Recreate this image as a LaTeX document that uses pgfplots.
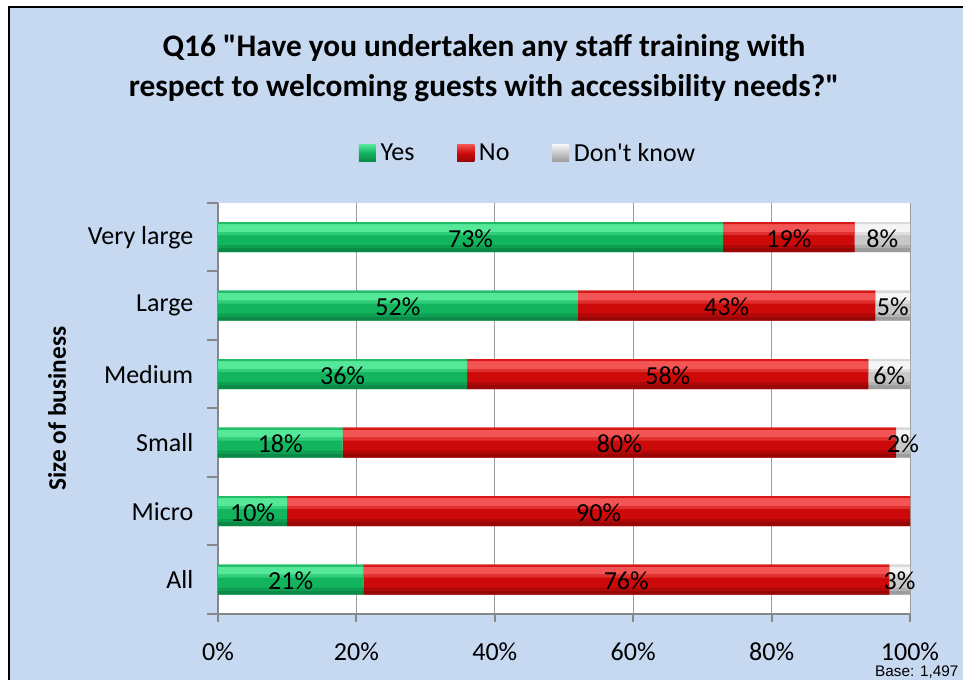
\documentclass[border=0pt]{standalone}
\usepackage{pgfplots}
\pgfplotsset{compat=1.18}
\usepackage{pgfplotstable}
\usepackage{fontspec}
\setmainfont{Carlito}[Ligatures=TeXOff]
\newfontfamily\basefont{Liberation Sans}
\definecolor{bgblue}{HTML}{C6D9F1}
\definecolor{axisgray}{HTML}{878787}
\definecolor{gridgray}{HTML}{9C9C9C}
% green
\definecolor{gmain}{HTML}{12B45E}
\definecolor{ghi}{HTML}{55E898}
\definecolor{gtr}{HTML}{30CE7A}
\definecolor{gedge}{HTML}{20BC66}
\definecolor{gdk}{HTML}{0B8A47}
\definecolor{gmd}{HTML}{0E9F52}
% red
\definecolor{rmain}{HTML}{CC0A0A}
\definecolor{rhi}{HTML}{F35555}
\definecolor{rtr}{HTML}{DF2F2F}
\definecolor{redge}{HTML}{D81818}
\definecolor{rdk}{HTML}{990606}
\definecolor{rmd}{HTML}{B00808}
% grey
\definecolor{kmain}{HTML}{C8C8C8}
\definecolor{khi}{HTML}{F5F5F5}
\definecolor{ktr}{HTML}{DFDFDF}
\definecolor{kedge}{HTML}{DADADA}
\definecolor{kdk}{HTML}{9C9C9C}
\definecolor{kmd}{HTML}{B2B2B2}

\pgfplotstableread{
cat yes no dk
0 21 76 3
1 10 90 0
2 18 80 2
3 36 58 6
4 52 43 5
5 73 19 8
}\datatable

\pgfplotsset{
  geom/.style={at={(163.5pt,49.5pt)}, anchor=south west,
    scale only axis, width=519pt, height=308.25pt,
    xbar stacked, xmin=0, xmax=100, ymin=-0.5, ymax=5.5},
  calcshow/.code={%
    \pgfkeys{/pgf/fpu=true,/pgf/fpu/output format=fixed}%
    \pgfmathparse{\pgfplotspointmeta>0.5 ? 1 : 0}\global\let\myshow\pgfmathresult
    \pgfkeys{/pgf/fpu=false}%
  },
}
\newcommand{\stripeaxis}[5]{%
\begin{axis}[geom, hide axis, bar width=#1, bar shift=#2]
\addplot[draw=none, fill=#3] table[x=yes, y=cat] {\datatable};
\addplot[draw=none, fill=#4] table[x=no, y=cat] {\datatable};
\addplot[draw=none, fill=#5] table[x=dk, y=cat] {\datatable};
\end{axis}}

\begin{document}
\begin{tikzpicture}[x=0.75pt,y=0.75pt]
\useasboundingbox (0,0) rectangle (963,680);
\clip (0,0) rectangle (963,680);
\fill[white] (0,0) rectangle (963,680);
\fill[bgblue] (9,-20) rectangle (990,672.5);
\draw[black, line width=1.5pt] (9,-20) rectangle (990,672.5);
\node[font=\fontsize{23.5}{30}\selectfont\bfseries, align=center] at (484,612)
  {Q16 "Have you undertaken any staff training with\\respect to welcoming guests with accessibility needs?"};
\begin{axis}[
  geom, bar width=22.5pt,
  axis lines*=left,
  axis line style={draw=axisgray, line width=1.5pt},
  axis background/.style={fill=white},
  tick align=outside,
  xmajorgrids, grid style={draw=gridgray, line width=0.75pt},
  xtick={0,20,...,100},
  xticklabel={\pgfmathprintnumber{\tick}\%},
  /pgf/number format/assume math mode=true,
  ytick={0,...,5},
  yticklabels={All,Micro,Small,Medium,Large,Very large},
  major y tick style={draw=none},
  major x tick style={draw=axisgray, line width=1.5pt},
  major tick length=6pt,
  minor ytick={-0.5,0.5,1.5,2.5,3.5,4.5,5.5},
  minor y tick style={draw=axisgray, line width=1.5pt},
  minor tick length=8pt,
  tick label style={font=\fontsize{19.5}{23}\selectfont},
  yticklabel style={xshift=-9pt},
  xticklabel style={yshift=-14.5pt, inner ysep=1pt},
  ylabel={Size of business},
  every axis y label/.style={at={(rel axis cs:0,0.5)}, xshift=-120.75pt, rotate=90, anchor=center, font=\fontsize{19}{23}\selectfont\bfseries},
  legend columns=3,
  legend style={at={(0.45,1)}, anchor=center, yshift=37.5pt, draw=none, fill=none,
    font=\fontsize{19.5}{23}\selectfont, nodes={inner xsep=3.5pt},
    /tikz/every even column/.append style={column sep=28.5pt}},
]
\addplot[draw=none, fill=gmain,
  legend image code/.code={\fill[top color=ghi, bottom color=gdk, middle color=gmain] (0pt,-6.4pt) rectangle (12.8pt,6.4pt);}]
  table[x=yes, y=cat] {\datatable};
\addlegendentry{Yes}
\addplot[draw=none, fill=rmain,
  legend image code/.code={\fill[top color=rhi, bottom color=rdk, middle color=rmain] (0pt,-6.4pt) rectangle (12.8pt,6.4pt);}]
  table[x=no, y=cat] {\datatable};
\addlegendentry{No}
\addplot[draw=none, fill=kmain,
  legend image code/.code={\fill[top color=khi, bottom color=kdk, middle color=kmain] (0pt,-6.4pt) rectangle (12.8pt,6.4pt);}]
  table[x=dk, y=cat] {\datatable};
\addlegendentry{Don't know}
\end{axis}
% bevel stripes of the bars
\stripeaxis{6pt}{6.75pt}{ghi}{rhi}{khi}
\stripeaxis{2.25pt}{2.625pt}{gtr}{rtr}{ktr}
\stripeaxis{1.5pt}{10.5pt}{gedge}{redge}{kedge}
\stripeaxis{3pt}{-9.75pt}{gdk}{rdk}{kdk}
\stripeaxis{2.25pt}{-7.125pt}{gmd}{rmd}{kmd}
% value labels
\begin{axis}[geom, hide axis, bar width=22.5pt,
  /pgf/number format/assume math mode=true,
  point meta=explicit,
  nodes near coords={\ifdim\myshow pt>0.5pt \pgfmathprintnumber{\pgfplotspointmeta}\%\fi},
  every node near coord/.append style={/pgfplots/calcshow, anchor=center, yshift=-1pt, font=\fontsize{19.5}{23}\selectfont, text=black},
]
\addplot[draw=none, fill=none] table[x=yes, y=cat, meta=yes] {\datatable};
\addplot[draw=none, fill=none] table[x=no, y=cat, meta=no] {\datatable};
\addplot[draw=none, fill=none] table[x=dk, y=cat, meta=dk] {\datatable};
\end{axis}
\node[font=\basefont\fontsize{11.5}{13}\selectfont, anchor=east, inner sep=1pt] at (960,8) {Base: 1,497};
\end{tikzpicture}
\end{document}
